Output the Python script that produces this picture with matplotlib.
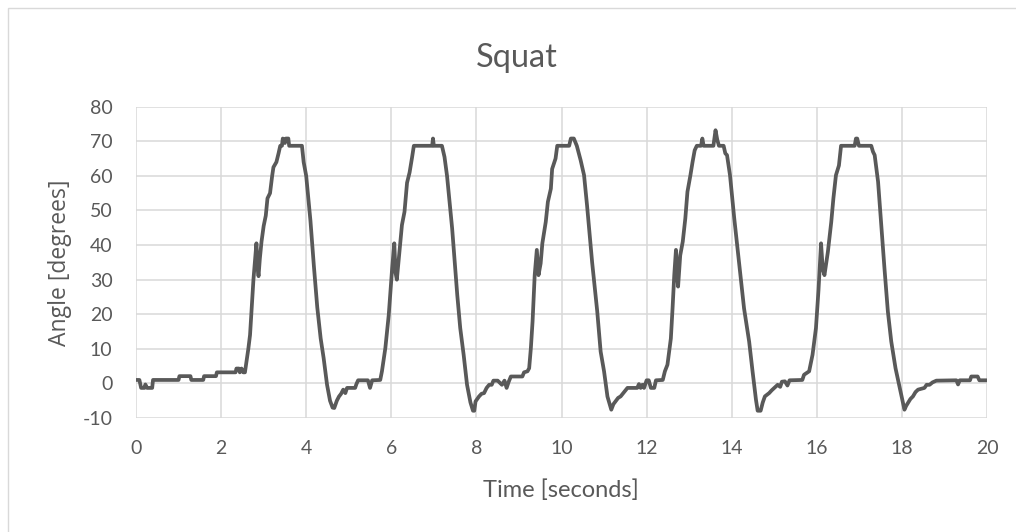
import matplotlib
matplotlib.use("Agg")
import matplotlib.pyplot as plt
from matplotlib.patches import Rectangle

# Knee angle during five squat repetitions
time_s = [
    0.00, 0.08, 0.12, 0.20, 0.22, 0.26, 0.38, 0.40, 1.00, 1.02, 1.28, 1.30, 1.58, 1.60,
    1.88, 1.90, 2.34, 2.36, 2.42, 2.44, 2.48, 2.52, 2.56, 2.60, 2.64, 2.68, 2.72, 2.76,
    2.80, 2.83, 2.86, 2.88, 2.91, 2.95, 3.00, 3.05, 3.09, 3.15, 3.20, 3.23, 3.30, 3.35,
    3.39, 3.43, 3.45, 3.50, 3.52, 3.58, 3.60, 3.90, 3.94, 4.00, 4.10, 4.18, 4.26, 4.34,
    4.41, 4.49, 4.56, 4.62, 4.66, 4.72, 4.77, 4.82, 4.87, 4.92, 4.96, 5.15, 5.18, 5.22,
    5.45, 5.50, 5.55, 5.74, 5.78, 5.86, 5.94, 6.02, 6.07, 6.10, 6.13, 6.19, 6.25, 6.31,
    6.37, 6.43, 6.49, 6.53, 6.96, 6.98, 7.00, 7.19, 7.25, 7.31, 7.43, 7.55, 7.62, 7.70,
    7.78, 7.86, 7.92, 7.95, 7.98, 8.06, 8.12, 8.18, 8.24, 8.30, 8.36, 8.40, 8.50, 8.60,
    8.66, 8.71, 8.76, 8.81, 9.08, 9.12, 9.20, 9.24, 9.28, 9.32, 9.37, 9.42, 9.46, 9.51,
    9.55, 9.63, 9.68, 9.75, 9.78, 9.86, 9.90, 10.18, 10.22, 10.29, 10.36, 10.45, 10.53,
    10.60, 10.72, 10.84, 10.92, 11.00, 11.08, 11.17, 11.22, 11.27, 11.33, 11.39, 11.47,
    11.55, 11.78, 11.82, 11.86, 11.90, 11.94, 12.00, 12.05, 12.10, 12.18, 12.22, 12.38,
    12.43, 12.49, 12.57, 12.61, 12.65, 12.69, 12.72, 12.74, 12.79, 12.85, 12.91, 12.96,
    13.03, 13.08, 13.13, 13.18, 13.28, 13.31, 13.34, 13.57, 13.62, 13.66, 13.70, 13.81,
    13.85, 13.89, 13.96, 14.06, 14.18, 14.29, 14.41, 14.49, 14.57, 14.61, 14.68, 14.73,
    14.78, 14.88, 14.94, 15.00, 15.08, 15.14, 15.18, 15.25, 15.31, 15.36, 15.66, 15.70,
    15.82, 15.90, 15.98, 16.04, 16.10, 16.14, 16.18, 16.26, 16.34, 16.39, 16.45, 16.52,
    16.57, 16.89, 16.92, 16.95, 16.99, 17.28, 17.32, 17.36, 17.44, 17.51, 17.59, 17.67,
    17.75, 17.85, 17.95, 18.06, 18.10, 18.14, 18.20, 18.26, 18.32, 18.38, 18.53, 18.58,
    18.65, 18.72, 18.81, 19.28, 19.32, 19.36, 19.60, 19.63, 19.78, 19.82, 20.00,
]
angle_deg = [
    1.0, 1.0, -1.3, -1.3, -0.3, -1.3, -1.3, 1.0, 1.0, 2.1, 2.1, 1.0, 1.0, 2.1,
    2.1, 3.2, 3.2, 4.3, 4.3, 3.2, 4.3, 3.2, 3.2, 6.5, 10.0, 14.0, 22.0, 30.0,
    36.0, 40.5, 33.0, 31.0, 36.0, 41.0, 45.5, 48.5, 53.5, 55.0, 60.0, 62.5, 64.0, 66.5,
    68.7, 68.7, 70.8, 69.5, 70.8, 70.8, 68.7, 68.7, 64.0, 60.0, 47.0, 34.0, 22.0, 13.0,
    7.3, -0.4, -5.0, -7.0, -7.1, -5.0, -3.8, -3.0, -1.8, -2.8, -1.3, -1.3, -0.2, 0.9,
    0.9, -1.3, 0.9, 1.0, 3.5, 10.2, 19.8, 33.3, 40.5, 32.0, 30.0, 38.0, 45.8, 49.6,
    58.0, 61.0, 65.5, 68.7, 68.7, 70.8, 68.7, 68.7, 65.5, 60.0, 44.8, 25.6, 16.0, 8.3,
    -0.4, -5.5, -7.9, -7.9, -5.2, -3.8, -3.0, -2.8, -1.3, -0.4, -0.4, 0.8, 0.8, -0.4,
    0.8, -1.3, 0.5, 2.0, 2.0, 3.2, 3.5, 4.4, 10.2, 17.9, 31.3, 38.6, 31.3, 34.7,
    40.5, 46.7, 52.5, 56.3, 62.0, 65.0, 68.7, 68.7, 70.8, 70.8, 68.7, 64.5, 60.2,
    51.5, 35.0, 20.8, 9.2, 3.5, -3.8, -7.6, -6.0, -5.2, -4.2, -3.75, -2.5,
    -1.3, -1.3, -0.2, -1.3, -0.4, -1.3, 0.9, 0.9, -1.3, -1.3, 0.9, 1.0,
    3.5, 5.4, 13.0, 21.7, 31.3, 38.6, 31.0, 28.0, 37.0, 41.0, 47.7, 55.4,
    60.2, 64.0, 67.4, 68.7, 68.7, 70.8, 68.7, 68.7, 73.2, 70.5, 68.7, 68.7,
    66.5, 66.0, 60.2, 47.7, 34.2, 21.7, 12.1, 3.5, -4.7, -7.9, -7.9, -5.5,
    -3.75, -2.8, -2.0, -1.3, -0.4, -1.0, 0.5, 0.6, -0.6, 0.9, 1.0, 2.5,
    3.5, 8.3, 16.0, 27.0, 40.5, 33.0, 31.3, 38.0, 46.7, 53.5, 60.2, 63.0,
    68.7, 68.7, 70.8, 70.8, 68.7, 68.7, 67.0, 66.0, 58.3, 46.7, 33.3, 20.8,
    12.1, 4.4, -1.3, -7.6, -6.5, -5.7, -4.5, -3.75, -2.5, -1.8, -1.3, -0.4,
    -0.4, 0.3, 0.8, 0.9, -0.3, 0.9, 0.9, 2.0, 2.0, 0.9, 0.9,
]

x_ticks = [0, 2, 4, 6, 8, 10, 12, 14, 16, 18, 20]
y_ticks = [-10, 0, 10, 20, 30, 40, 50, 60, 70, 80]

TEXT = "#595959"
GRID = "#d9d9d9"
FONT = ["Lato", "DejaVu Sans"]

W, H = 1016, 532
fig = plt.figure(figsize=(W / 100, H / 100), dpi=100)
fig.patch.set_facecolor("white")

# chart-area outline
fig.add_artist(Rectangle((7.5 / W, -0.1), 1.2, 1 - 7.5 / H + 0.1, transform=fig.transFigure,
                         fill=False, edgecolor=GRID, lw=1.0))

ax = fig.add_axes([136 / W, 1 - 418 / H, (987 - 136) / W, (418 - 106.7) / H])
ax.plot(time_s, angle_deg, color="#595959", lw=2.7, solid_joinstyle="round", zorder=3)

ax.set_xlim(0, 20)
ax.set_ylim(-10, 80)
ax.set_xticks(x_ticks)
ax.set_yticks(y_ticks)
ax.set_xticklabels([str(v) for v in x_ticks])
ax.set_yticklabels([str(v) for v in y_ticks])
ax.grid(True, color=GRID, lw=1.1)
ax.set_axisbelow(True)
for s in ax.spines.values():
    s.set_visible(False)
ax.tick_params(axis="both", length=0, colors=TEXT, labelsize=14)
ax.tick_params(axis="x", pad=16)
ax.tick_params(axis="y", pad=17)
for lab in ax.get_xticklabels() + ax.get_yticklabels():
    lab.set_family(FONT)

fig.text(517 / W, 1 - 66.7 / H, "Squat", ha="center", va="baseline",
         fontsize=23.5, color=TEXT, family=FONT)
fig.text(561 / W, 1 - 496.7 / H, "Time [seconds]", ha="center", va="baseline",
         fontsize=17, color=TEXT, family=FONT)
fig.text(60 / W, 1 - 263 / H, "Angle [degrees]", ha="center", va="center",
         rotation=90, fontsize=16.5, color=TEXT, family=["Open Sans", "DejaVu Sans"])

fig.savefig("out.png", dpi=100, facecolor="white")
